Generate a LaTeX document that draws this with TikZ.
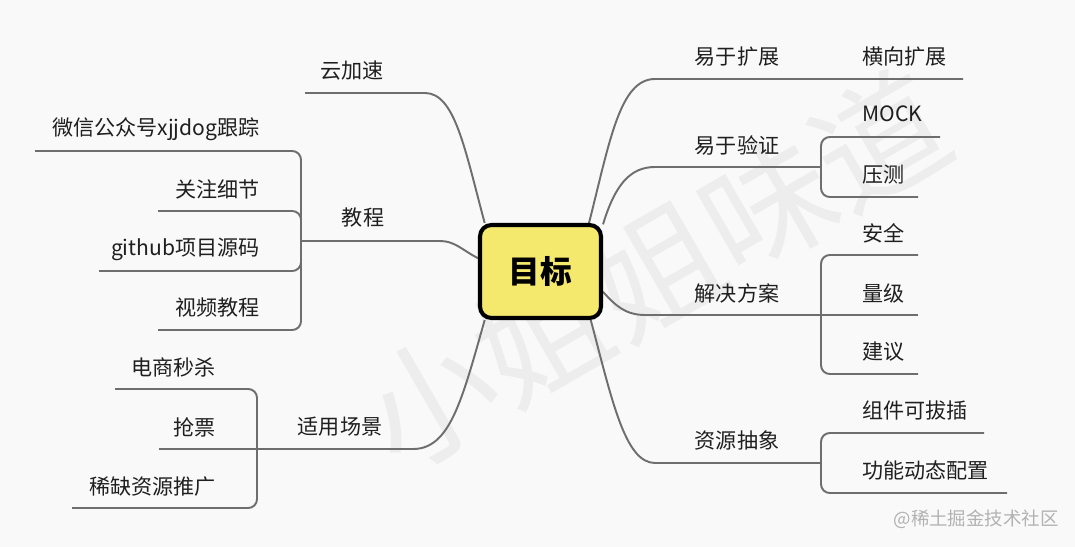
\documentclass[tikz,border=0pt]{standalone}
\usepackage{fontspec}
\setmainfont{Noto Sans CJK SC}
\usetikzlibrary{backgrounds}
\definecolor{goalfill}{HTML}{F4E96C}
\definecolor{linegray}{HTML}{6E6E6E}
\definecolor{paper}{HTML}{F9F9F9}
\definecolor{markgray}{HTML}{EDEDED}

\begin{document}
\begin{tikzpicture}[x=0.02cm, y=-0.02cm,
  topic/.style={inner sep=0pt, text=black!88, font=\fontsize{12}{14}\selectfont},
  link/.style={draw=linegray, line width=1.1pt},
  fork/.style={link, rounded corners=5pt}]
\useasboundingbox (0,0) rectangle (1075,547);
% centre
\node[rounded corners=6.5pt, fill=goalfill, draw=black, line width=2.3pt, minimum width=2.42cm, minimum height=1.86cm, font=\fontsize{18}{20}\selectfont\bfseries] (goal) at (540.5,271.5) {目标};
% right side
\node[topic] (easy) at (737,57) {易于扩展};
\node[topic, anchor=west] (scale) at (862,57) {横向扩展};
\node[topic] (verify) at (737,145) {易于验证};
\node[topic, anchor=west] (mock) at (862,114) {MOCK};
\node[topic, anchor=west] (stress) at (862,175) {压测};
\node[topic] (plan) at (737,293) {解决方案};
\node[topic, anchor=west] (safe) at (862,233) {安全};
\node[topic, anchor=west] (volume) at (862,293) {量级};
\node[topic, anchor=west] (advice) at (862,352) {建议};
\node[topic] (abstract) at (737,440) {资源抽象};
\node[topic, anchor=west] (plugin) at (862,410) {组件可拔插};
\node[topic, anchor=west] (config) at (862,470) {功能动态配置};
% left side
\node[topic] (cloud) at (352,71) {云加速};
\node[topic] (course) at (363,218) {教程};
\node[topic, anchor=east] (wechat) at (260,129) {微信公众号xjjdog跟踪};
\node[topic, anchor=east] (detail) at (260,189) {关注细节};
\node[topic, anchor=east] (github) at (260,249) {github项目源码};
\node[topic, anchor=east] (video) at (260,308) {视频教程};
\node[topic] (usage) at (340,427) {适用场景};
\node[topic, anchor=east] (flash) at (216,367) {电商秒杀};
\node[topic, anchor=east] (ticket) at (216,427) {抢票};
\node[topic, anchor=east] (scarce) at (216,487) {稀缺资源推广};
% hubs and line ends
\coordinate (verifyhub) at (821,167);
\coordinate (planhub) at (821,315);
\coordinate (abstracthub) at (821,463);
\coordinate (coursehub) at (301,241);
\coordinate (usagehub) at (257,449);
\coordinate (scaleend) at (963,79);
\coordinate (mockend) at (940,137);
\coordinate (stressend) at (918,197);
\coordinate (safeend) at (918,255);
\coordinate (volumeend) at (918,315);
\coordinate (adviceend) at (918,374);
\coordinate (pluginend) at (984,433);
\coordinate (configend) at (1007,493);
\coordinate (cloudend) at (305,93);
\coordinate (wechatend) at (35,151);
\coordinate (detailend) at (158,211);
\coordinate (githubend) at (99,271);
\coordinate (videoend) at (158,330);
\coordinate (flashend) at (115,389);
\coordinate (ticketend) at (159,449);
\coordinate (scarceend) at (72,508);
\begin{scope}[on background layer]
\fill[paper] (0,0) rectangle (1075,547);
% watermarks
\node[rotate=30, text=markgray, font=\fontsize{74}{78}\selectfont] (mark) at (655,270) {小姐姐味道};
\node[anchor=east, inner sep=0pt, text=black!30, font=\fontsize{10.5}{12}\selectfont] (site) at (1059,519) {@稀土掘金技术社区};
% main branches
\draw[link] (goal.139) .. controls (465,150) and (455,93) .. (425,93) -- (cloudend);
\draw[link] (goal.168) .. controls (462,250) and (455,241) .. (440,241) -- (coursehub);
\draw[link] (goal.221) .. controls (462,400) and (450,449) .. (413,449) -- (usagehub);
\draw[link] (goal.45) .. controls (610,140) and (620,79) .. (655,79) -- (scaleend);
\draw[link] (goal.37) .. controls (615,185) and (630,167) .. (655,167) -- (verifyhub);
\draw[link] (goal.-18) .. controls (615,305) and (625,315) .. (645,315) -- (planhub);
\draw[link] (goal.-44) .. controls (612,400) and (625,463) .. (655,463) -- (abstracthub);
% sub branches
\draw[fork] (verifyhub) |- (mockend);
\draw[fork] (verifyhub) |- (stressend);
\draw[fork] (planhub) |- (safeend);
\draw[link] (planhub) -- (volumeend);
\draw[fork] (planhub) |- (adviceend);
\draw[fork] (abstracthub) |- (pluginend);
\draw[fork] (abstracthub) |- (configend);
\draw[fork] (coursehub) |- (wechatend);
\draw[fork] (coursehub) |- (detailend);
\draw[fork] (coursehub) |- (githubend);
\draw[fork] (coursehub) |- (videoend);
\draw[fork] (usagehub) |- (flashend);
\draw[link] (usagehub) -- (ticketend);
\draw[fork] (usagehub) |- (scarceend);
\end{scope}
\end{tikzpicture}
\end{document}
